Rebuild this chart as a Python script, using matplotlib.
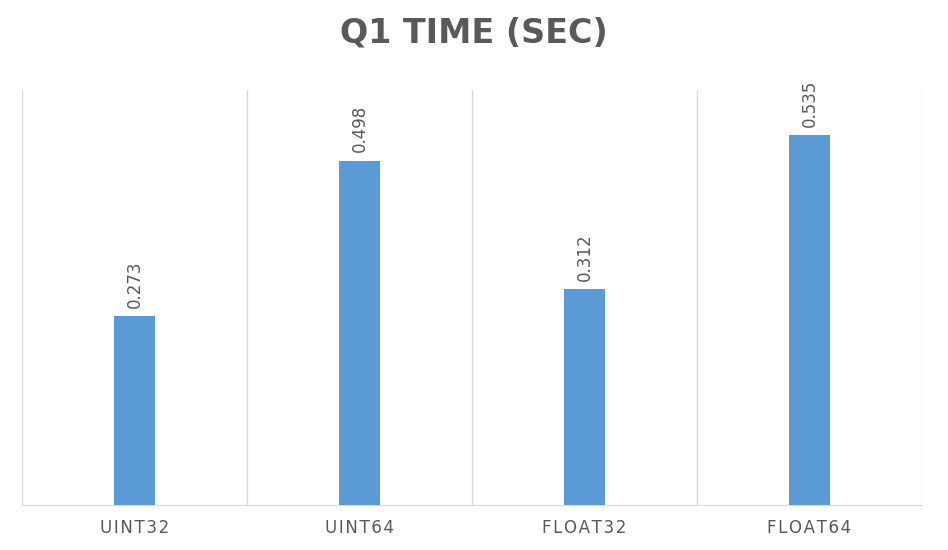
import matplotlib.pyplot as plt

categories = ["UINT32", "UINT64", "FLOAT32", "FLOAT64"]
times = [0.273, 0.498, 0.312, 0.535]
value_labels = ["0.273", "0.498", "0.312", "0.535"]

fig = plt.figure(figsize=(9.48, 5.5), dpi=100)
ax = fig.add_axes([22 / 948, 45 / 550, 900 / 948, 415 / 550])

x = range(len(categories))
ax.bar(x, times, width=0.18, color="#5B9BD5", zorder=3)
for xi, v, lab in zip(x, times, value_labels):
    ax.text(xi, v + 0.012, lab, rotation=90, ha="center", va="bottom",
            fontsize=12, color="#595959")

ax.set_xlim(-0.5, len(categories) - 0.5)
ax.set_ylim(0, 0.6)
ax.set_yticks([])
ax.set_xticks(list(x))
ax.set_xticklabels(["\u200a".join(c) for c in categories], fontsize=12, color="#595959")
ax.tick_params(axis="x", length=0, pad=10)
for b in [-0.5, 0.5, 1.5, 2.5, 3.5]:
    ax.axvline(b, color="#D9D9D9", lw=1, zorder=1)
for s in ["top", "left", "right"]:
    ax.spines[s].set_visible(False)
ax.spines["bottom"].set_color("#D9D9D9")

fig.text(0.5, 1 - 33 / 550, "Q1 TIME (SEC)", ha="center", va="center",
         fontsize=24, fontweight="bold", color="#595959")

fig.savefig("out.png", dpi=100)
